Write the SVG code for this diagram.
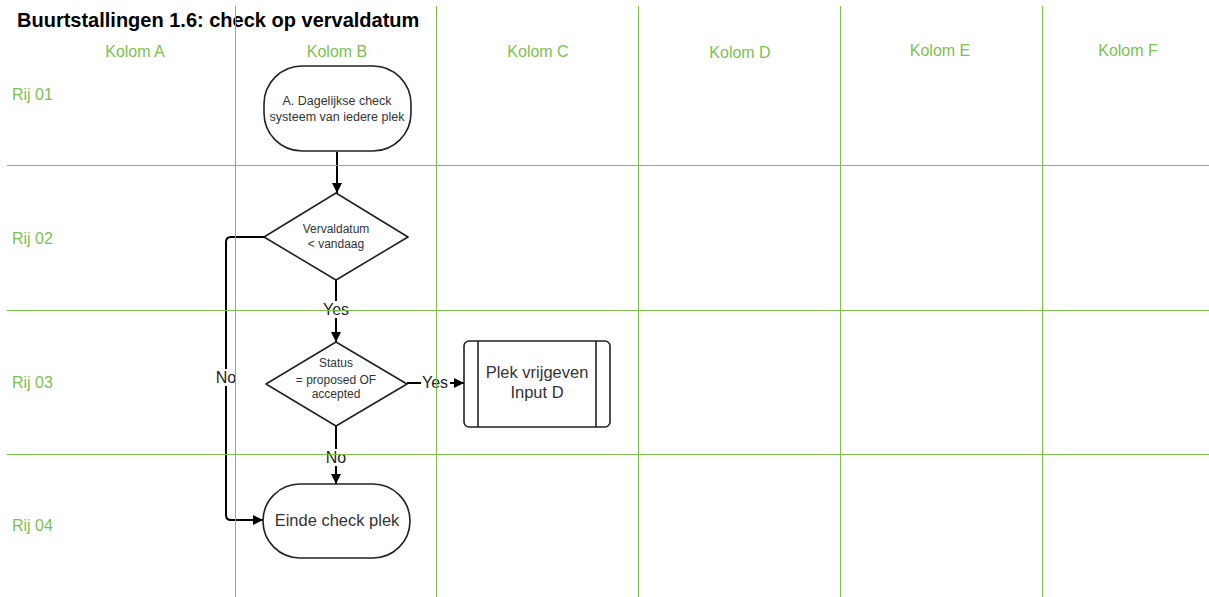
<svg xmlns="http://www.w3.org/2000/svg" width="1209" height="597" viewBox="0 0 1209 597">
  <defs>
    <style>
      .lane { stroke: #7cc14a; stroke-width: 1; fill: none; }
      .lbl { font-family: "Liberation Sans", Arial, sans-serif; font-size: 16px; fill: #7dc052; }
      .shape { fill: #ffffff; stroke: #222222; stroke-width: 1.6; }
      .txt { font-family: "Liberation Sans", Arial, sans-serif; fill: #333333; text-anchor: middle; }
      .edge { fill: none; stroke: #000000; stroke-width: 2; }
      .elbl { font-family: "Liberation Sans", Arial, sans-serif; font-size: 16px; fill: #222222; text-anchor: middle; }
    </style>
    <marker id="arrow" viewBox="0 0 10 10" refX="10" refY="5" markerWidth="11" markerHeight="10" orient="auto" markerUnits="userSpaceOnUse">
      <path d="M0,0 L10,5 L0,10 z" fill="#000000"/>
    </marker>
  </defs>

  <rect width="1209" height="597" fill="#ffffff"/>

  <text x="17" y="27" font-family="Liberation Sans, Arial, sans-serif" font-size="20" font-weight="bold" fill="#000000">Buurtstallingen 1.6: check op vervaldatum</text>

  <g id="column-labels" text-anchor="middle">
    <text class="lbl" x="135" y="57">Kolom A</text>
    <text class="lbl" x="337" y="57">Kolom B</text>
    <text class="lbl" x="538" y="57">Kolom C</text>
    <text class="lbl" x="740" y="58">Kolom D</text>
    <text class="lbl" x="940" y="56">Kolom E</text>
    <text class="lbl" x="1128" y="56">Kolom F</text>
  </g>
  <g id="row-labels">
    <text class="lbl" x="12" y="100">Rij 01</text>
    <text class="lbl" x="12" y="244">Rij 02</text>
    <text class="lbl" x="12" y="388">Rij 03</text>
    <text class="lbl" x="12" y="531">Rij 04</text>
  </g>

  <!-- connectors -->
  <g id="connectors">
    <path class="edge" d="M337,152 L337,193" marker-end="url(#arrow)"/>
    <path class="edge" d="M336,280 L336,342" marker-end="url(#arrow)"/>
    <path class="edge" d="M407,383 L464,383" marker-end="url(#arrow)"/>
    <path class="edge" d="M336,426 L336,484" marker-end="url(#arrow)"/>
    <path class="edge" d="M264,237 L231,237 Q226,237 226,242 L226,515 Q226,520 231,520 L263,520" marker-end="url(#arrow)"/>
    <rect x="320" y="301" width="32" height="17" fill="#ffffff"/>
    <text class="elbl" x="336" y="315">Yes</text>
    <rect x="421" y="374" width="29" height="17" fill="#ffffff"/>
    <text class="elbl" x="435" y="388">Yes</text>
    <rect x="323" y="449" width="26" height="17" fill="#ffffff"/>
    <text class="elbl" x="336" y="463">No</text>
    <rect x="215" y="369" width="22" height="17" fill="#ffffff"/>
    <text class="elbl" x="226" y="383">No</text>
  </g>

  <!-- swimlane grid, drawn over the edge labels -->
  <g id="grid">
    <line class="lane" x1="235.5" y1="6" x2="235.5" y2="597"/>
    <line class="lane" x1="436.5" y1="6" x2="436.5" y2="597"/>
    <line class="lane" x1="638.5" y1="6" x2="638.5" y2="597"/>
    <line class="lane" x1="840.5" y1="6" x2="840.5" y2="597"/>
    <line class="lane" x1="1042.5" y1="6" x2="1042.5" y2="597"/>
    <line class="lane" x1="7" y1="165.5" x2="1209" y2="165.5"/>
    <line class="lane" x1="7" y1="310.5" x2="1209" y2="310.5"/>
    <line class="lane" x1="7" y1="454.5" x2="1209" y2="454.5"/>
  </g>

  <g id="node-start">
    <rect class="shape" x="264" y="66" width="147" height="85" rx="38" ry="38"/>
    <text class="txt" font-size="12.5" x="337" y="105">A. Dagelijkse check</text>
    <text class="txt" font-size="12.5" x="337" y="121">systeem van iedere plek</text>
  </g>

  <g id="node-vervaldatum">
    <path class="shape" d="M336,193 L408,237 L336,280 L264,237 Z" stroke-linejoin="round"/>
    <text class="txt" font-size="12" x="336" y="233">Vervaldatum</text>
    <text class="txt" font-size="12" x="336" y="248">&lt; vandaag</text>
  </g>

  <g id="node-status">
    <path class="shape" d="M336,342 L407,384 L336,426 L266,384 Z" stroke-linejoin="round"/>
    <text class="txt" font-size="12" x="336" y="367">Status</text>
    <text class="txt" font-size="12" x="336" y="384">= proposed OF</text>
    <text class="txt" font-size="12" x="336" y="398">accepted</text>
  </g>

  <g id="node-vrijgeven">
    <rect class="shape" x="464" y="341" width="146" height="86" rx="5" ry="5"/>
    <line class="shape" x1="478" y1="341" x2="478" y2="427"/>
    <line class="shape" x1="596" y1="341" x2="596" y2="427"/>
    <text class="txt" font-size="16.5" x="537" y="378">Plek vrijgeven</text>
    <text class="txt" font-size="16.5" x="537" y="398">Input D</text>
  </g>

  <g id="node-einde">
    <rect class="shape" x="263" y="484" width="147" height="74" rx="37" ry="37"/>
    <text class="txt" font-size="16.5" x="337" y="526">Einde check plek</text>
  </g>
</svg>
